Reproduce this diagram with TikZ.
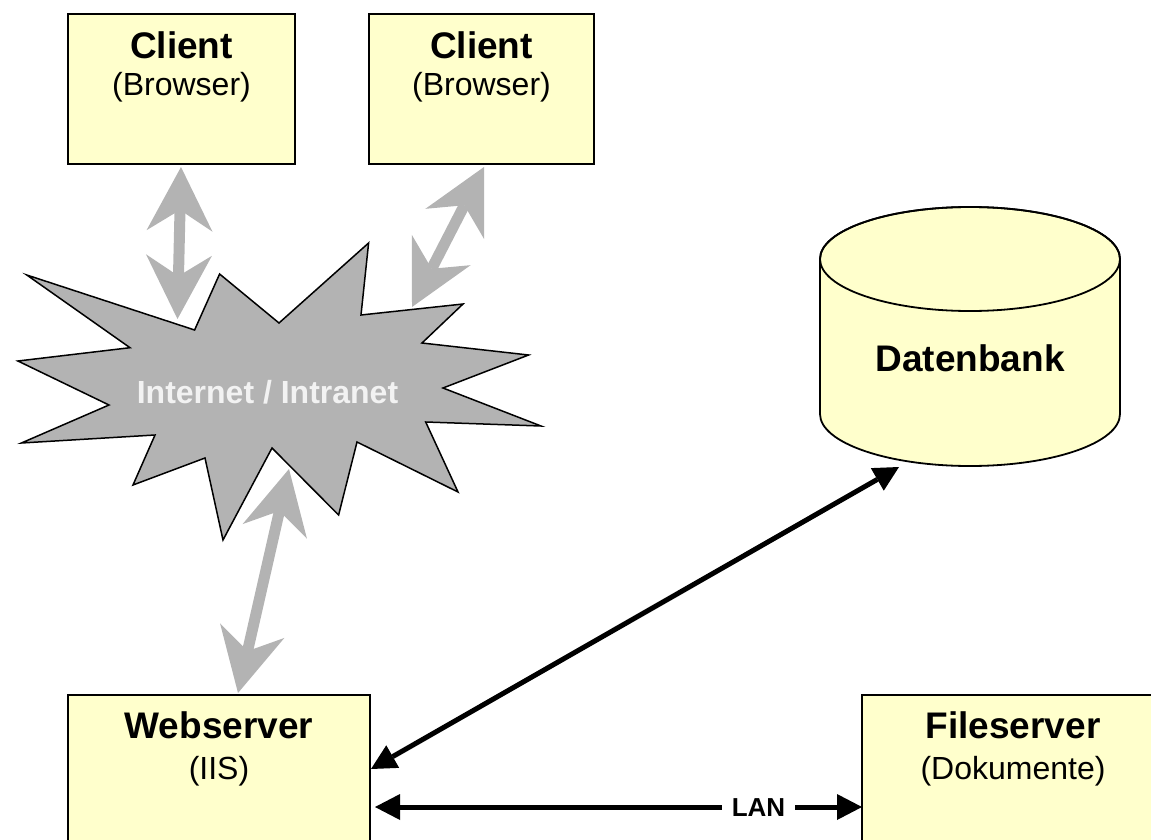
\documentclass[tikz,border=0pt]{standalone}
\usepackage{fontspec}
\setmainfont{Liberation Sans}
\usetikzlibrary{arrows.meta}
\definecolor{boxfill}{HTML}{FFFFCC}
\definecolor{fatgray}{HTML}{B3B3B3}
\begin{document}
\begin{tikzpicture}[x=1pt,y=-1pt,
  box/.style={draw=black,line width=2.5pt,fill=boxfill,inner sep=0pt},
  ttl/.style={font=\fontsize{37}{40}\selectfont\bfseries,anchor=base,inner sep=0pt},
  sub/.style={font=\fontsize{32}{36}\selectfont,anchor=base,inner sep=0pt},
  fat/.style={draw=fatgray,line width=11pt,
    {Stealth[length=64pt,width=66pt,inset=21pt,line width=0pt,fill=fatgray]}-{Stealth[length=64pt,width=66pt,inset=21pt,line width=0pt,fill=fatgray]}},
  blk/.style={draw=black,line width=5pt,
    {Triangle[length=25pt,width=26pt,line width=0pt]}-{Triangle[length=25pt,width=26pt,line width=0pt]}}
]
\useasboundingbox (0,0) rectangle (1151,840);
\clip (0,0) rectangle (1151,840);

% boxes
\node[box,minimum width=227pt,minimum height=150pt] (c1) at (181.5,89) {};
\node[box,minimum width=225pt,minimum height=150pt] (c2) at (481.5,89) {};
\node[box,minimum width=302pt,minimum height=165pt] (web) at (219,777.5) {};
\node[box,minimum width=302pt,minimum height=165pt] (file) at (1013,777.5) {};

\node[ttl] (c1t) at (181.5,59) {Client};
\node[sub] (c1s) at (181.5,96) {(Browser)};
\node[ttl] (c2t) at (481.5,59) {Client};
\node[sub] (c2s) at (481.5,96) {(Browser)};
\node[ttl] (webt) at (219,738) {Webserver};
\node[sub] (webs) at (219,779) {(IIS)};
\node[ttl] (filet) at (1013,738) {Fileserver};
\node[sub] (files) at (1013,779) {(Dokumente)};

% database cylinder
\path[draw=black,line width=1.8pt,fill=boxfill]
  (820,259) -- (820,414) arc[start angle=180,end angle=360,x radius=150pt,y radius=52pt]
  -- (1120,259) arc[start angle=0,end angle=180,x radius=150pt,y radius=52pt] -- cycle;
\draw[line width=1.8pt] (970,259) ellipse[x radius=150pt,y radius=52pt];
\node[ttl] (db) at (970,371) {Datenbank};

% starburst
\path[draw=black,line width=1.5pt,fill=fatgray,line join=miter]
  (26.8,275) -- (130,347.7) -- (17.9,361) -- (109,405) -- (21.4,443) -- (155,435)
  -- (133,485) -- (205,458) -- (223,540) -- (272,448) -- (338.6,515) -- (357,442)
  -- (458,492) -- (425.7,422) -- (541,426) -- (443,388) -- (528.6,355) -- (422,343)
  -- (463,304) -- (361,315) -- (368.6,243) -- (279,323) -- (219.6,274) -- (194.6,330) -- cycle;
\node[font=\fontsize{32}{36}\selectfont\bfseries,text=white!95!black,anchor=base,inner sep=0pt]
  (net) at (267.5,403) {Internet / Intranet};

% connector endpoints
\coordinate (a1t) at (181,167);
\coordinate (a1b) at (177.5,319);
\coordinate (a2t) at (484,167);
\coordinate (a2b) at (412,307);
\coordinate (a3t) at (289,469);
\coordinate (a3b) at (238,693);
\coordinate (webdb) at (371,769);
\coordinate (dbin) at (899,467);
\coordinate (lanL) at (375,807);
\coordinate (lanR) at (862,807);

\draw[fat] (a1b) -- (a1t);
\draw[fat] (a2b) -- (a2t);
\draw[fat] (a3b) -- (a3t);

\draw[blk] (webdb) -- (dbin);
\draw[blk] (lanL) -- (lanR);
\node[fill=white,inner xsep=10pt,inner ysep=4pt,font=\fontsize{26}{28}\selectfont\bfseries]
  (lan) at (758.5,808) {LAN};
\end{tikzpicture}
\end{document}
